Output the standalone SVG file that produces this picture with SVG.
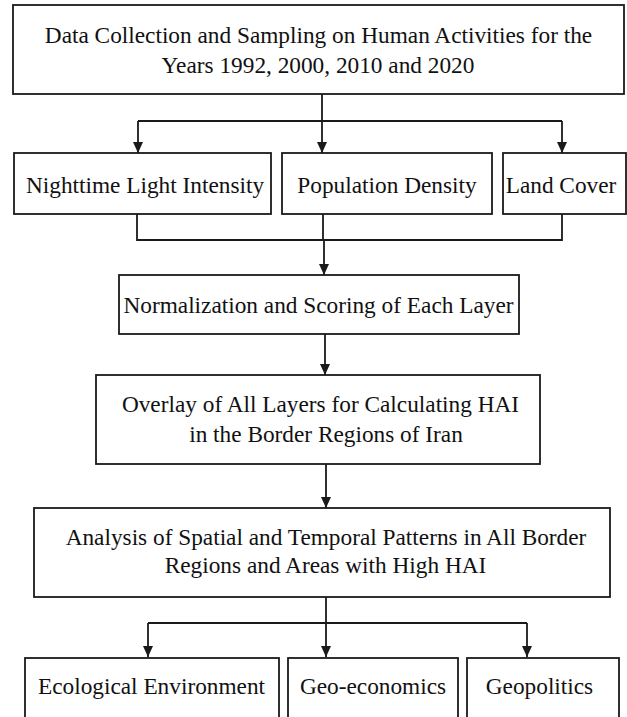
<svg xmlns="http://www.w3.org/2000/svg" width="627" height="717" viewBox="0 0 627 717">
<style>
.box{fill:#fff;stroke:#1a1a1a;stroke-width:1.8}
.t{font-family:"Liberation Serif","Times New Roman",serif;font-size:23.3px;fill:#111;text-anchor:middle}
.c{fill:none;stroke:#1a1a1a;stroke-width:1.8}
</style>
<defs>
<marker id="ah" markerWidth="11" markerHeight="10" refX="11" refY="5" orient="auto" viewBox="0 0 11 10" markerUnits="userSpaceOnUse">
<path d="M0,0 L11,5 L0,10 Z" fill="#1a1a1a"/>
</marker>
</defs>
<rect width="627" height="717" fill="#fff"/>
<g id="n1"><rect class="box" x="13" y="5" width="611" height="89"/>
<text class="t" x="318.5" y="43">Data Collection and Sampling on Human Activities for the</text>
<text class="t" x="318" y="73">Years 1992, 2000, 2010 and 2020</text></g>
<g id="n2"><rect class="box" x="14" y="153" width="257" height="61"/><text class="t" x="145" y="193">Nighttime Light Intensity</text></g>
<g id="n3"><rect class="box" x="282" y="153" width="210" height="61"/><text class="t" x="387" y="193">Population Density</text></g>
<g id="n4"><rect class="box" x="503" y="153" width="123" height="61"/><text class="t" x="561" y="193">Land Cover</text></g>
<g id="n5"><rect class="box" x="119" y="275" width="400" height="59"/><text class="t" x="318.5" y="313">Normalization and Scoring of Each Layer</text></g>
<g id="n6"><rect class="box" x="96" y="375" width="444" height="89"/>
<text class="t" x="320.5" y="412">Overlay of All Layers for Calculating HAI</text>
<text class="t" x="326" y="442">in the Border Regions of Iran</text></g>
<g id="n7"><rect class="box" x="34" y="508" width="576" height="89"/>
<text class="t" x="326" y="545">Analysis of Spatial and Temporal Patterns in All Border</text>
<text class="t" x="325.5" y="573">Regions and Areas with High HAI</text></g>
<g id="n8"><rect class="box" x="25" y="658" width="254" height="70"/><text class="t" x="151.5" y="694">Ecological Environment</text></g>
<g id="n9"><rect class="box" x="288" y="658" width="170" height="70"/><text class="t" x="373" y="694">Geo-economics</text></g>
<g id="n10"><rect class="box" x="467" y="658" width="152" height="70"/><text class="t" x="539.5" y="694">Geopolitics</text></g>
<g id="connectors">
<path class="c" d="M322,94 V121 M138,121 H562"/>
<path class="c" d="M138,121 V153" marker-end="url(#ah)"/>
<path class="c" d="M322,121 V153" marker-end="url(#ah)"/>
<path class="c" d="M562,121 V153" marker-end="url(#ah)"/>
<path class="c" d="M137,214 V240 H562 V214 M323,214 V240"/>
<path class="c" d="M324,240 V275" marker-end="url(#ah)"/>
<path class="c" d="M325,334 V375" marker-end="url(#ah)"/>
<path class="c" d="M326,464 V508" marker-end="url(#ah)"/>
<path class="c" d="M326,597 V623 M148,623 H527"/>
<path class="c" d="M148,623 V657" marker-end="url(#ah)"/>
<path class="c" d="M326,623 V657" marker-end="url(#ah)"/>
<path class="c" d="M527,623 V657" marker-end="url(#ah)"/>
</g>
</svg>
